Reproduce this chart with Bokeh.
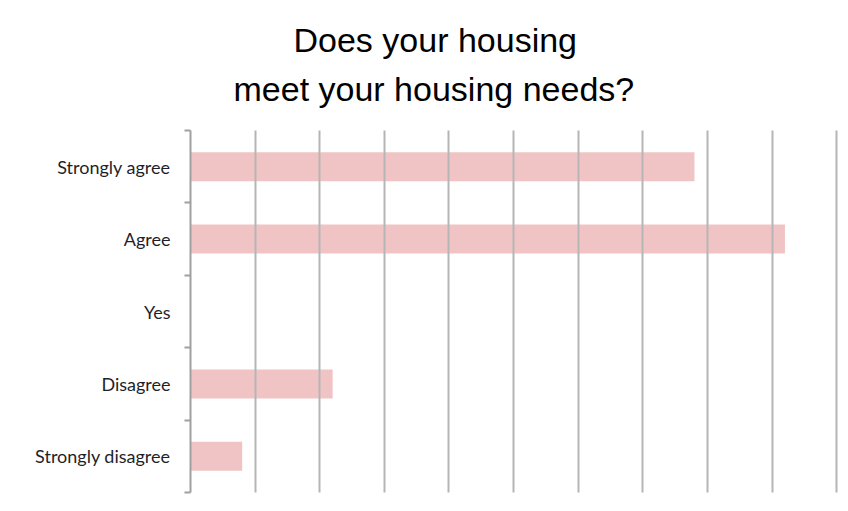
from bokeh.plotting import figure
from bokeh.models import FixedTicker, ColumnDataSource, Title
from bokeh.embed import file_html
from bokeh.resources import INLINE

# ---- data ----
categories = ["Strongly agree", "Agree", "Yes", "Disagree", "Strongly disagree"]
counts = [39, 46, 0, 11, 4]
x_ticks = [0, 5, 10, 15, 20, 25, 30, 35, 40, 45, 50]
title_lines = ["Does your housing", "meet your housing needs?"]

n = len(categories)
ypos = [n - i - 0.5 for i in range(n)]
boundaries = [float(i) for i in range(n + 1)]

source = ColumnDataSource(dict(y=ypos, count=counts, cat=categories))

p = figure(width=848, height=511, output_backend="svg", toolbar_location=None,
           x_range=(0, 50.3), y_range=(0, n), x_axis_location=None,
           min_border_left=190, min_border_right=8, min_border_top=130,
           min_border_bottom=19)

p.outline_line_color = None
p.background_fill_color = "white"
p.border_fill_color = "white"

p.hbar(y="y", right="count", left=0, height=0.4, source=source,
       fill_color="#f0c4c4", line_color=None)

# grid
p.ygrid.visible = False
p.xgrid.ticker = FixedTicker(ticks=x_ticks)
p.xgrid.grid_line_color = "#b5b5b5"
p.xgrid.grid_line_width = 2
p.xgrid.level = "overlay"

# y axis
ax = p.yaxis[0]
ax.ticker = FixedTicker(ticks=ypos, minor_ticks=boundaries)
ax.major_label_overrides = {y: c for y, c in zip(ypos, categories)}
ax.major_tick_in = 0
ax.major_tick_out = 0
ax.minor_tick_in = 0
ax.minor_tick_out = 6
ax.minor_tick_line_color = "#a0a0a0"
ax.minor_tick_line_width = 2
ax.axis_line_color = "#a0a0a0"
ax.axis_line_width = 2
ax.major_label_standoff = 14
ax.major_label_text_font = "Lato"
ax.major_label_text_font_size = "18px"
ax.major_label_text_color = "#1f1f2a"

# title (two centred lines)
p.title.visible = False
offsets = [103, 43]
standoffs = [-27, 45]
for txt, off, so in reversed(list(zip(title_lines, offsets, standoffs))):
    t = Title(text=txt, align="left", offset=off, standoff=so,
              text_font="Liberation Sans", text_font_size="34px",
              text_font_style="normal", text_color="black")
    p.add_layout(t, "above")

open("out.html", "w").write(file_html(p, INLINE))
